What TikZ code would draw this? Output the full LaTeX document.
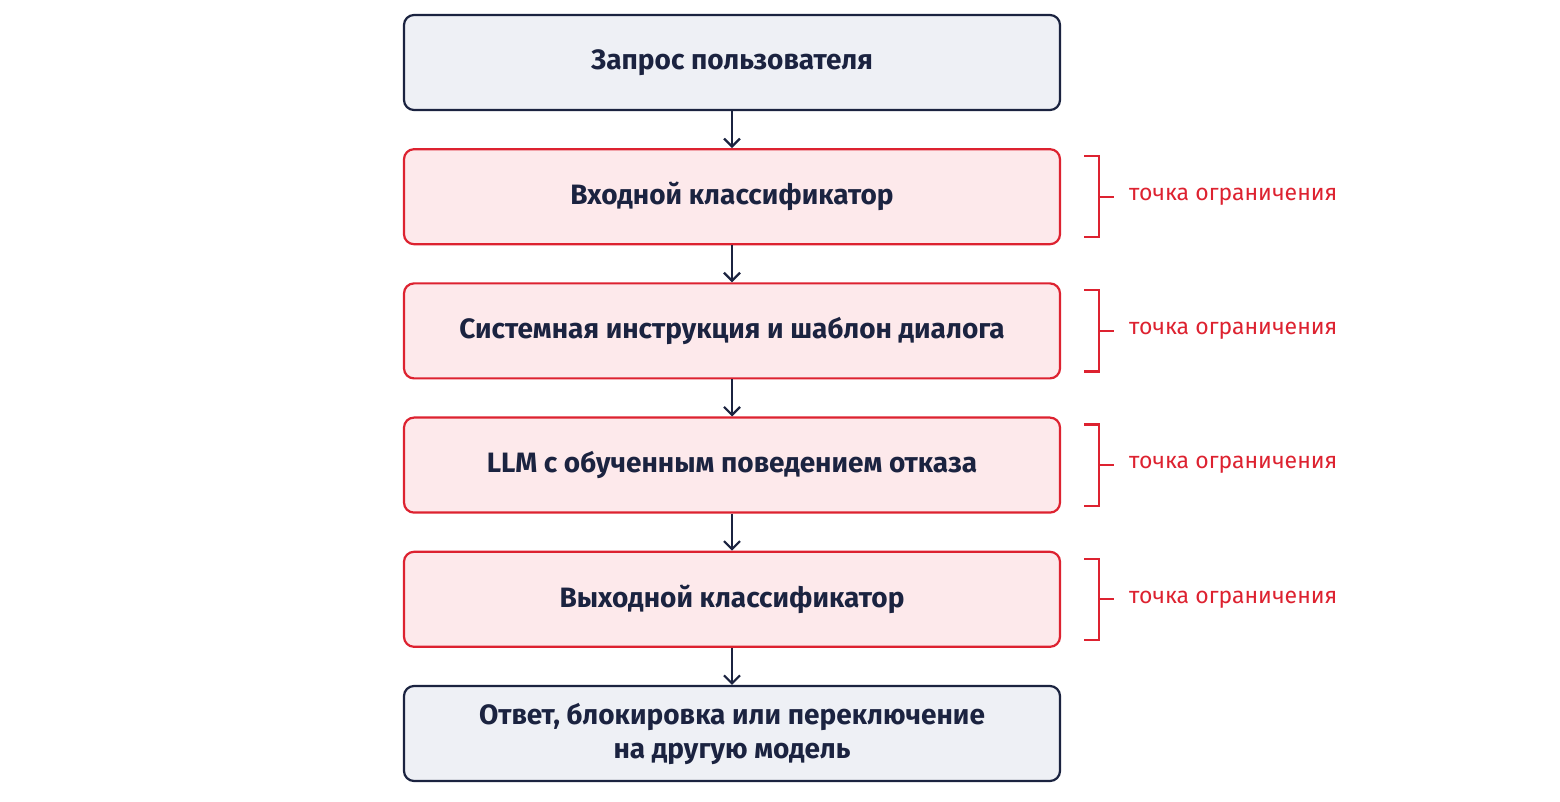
\documentclass[tikz,border=0pt]{standalone}
\usepackage{fontspec}
\setmainfont{Fira Sans}
\usetikzlibrary{positioning, arrows.meta}
\definecolor{navy}{HTML}{1B2340}
\definecolor{grayfill}{HTML}{EEF0F5}
\definecolor{redline}{HTML}{DD2230}
\definecolor{redfill}{HTML}{FDE9EB}
\tikzset{
    >={Straight Barb[length=4pt,width=8pt]}, % open arrow heads
    stage/.style={draw=navy, fill=grayfill, line width=1.1pt, rounded corners=5pt,
        minimum width=328pt, minimum height=47.5pt, align=center,
        font=\fontsize{14}{17}\selectfont\bfseries, text=navy},
    limit/.style={stage, draw=redline, fill=redfill}, % restricted stages
    node distance=18.5pt,
    flow/.style={->, draw=navy, line width=1.1pt},
    brace/.style={draw=redline, line width=1.1pt},
    note/.style={text=redline, font=\fontsize{11.5}{13}\selectfont, anchor=west},
}
\begin{document}
\begin{tikzpicture}
    \useasboundingbox (0,0) rectangle (780pt,-401pt);
    \node[stage] (user) at (366pt,-31.25pt) {Запрос пользователя};
    \node[limit, below=of user] (inclf) {Входной классификатор};
    \node[limit, below=of inclf] (sysprompt) {Системная инструкция и шаблон диалога};
    \node[limit, below=of sysprompt] (llm) {LLM с обученным поведением отказа};
    \node[limit, below=of llm] (outclf) {Выходной классификатор};
    \node[stage, below=of outclf] (result) {Ответ, блокировка или переключение\\на другую модель};
    \draw[flow] (user) -- (inclf);
    \draw[flow] (inclf) -- (sysprompt);
    \draw[flow] (sysprompt) -- (llm);
    \draw[flow] (llm) -- (outclf);
    \draw[flow] (outclf) -- (result);
    % brackets with notes
    \foreach \s in {inclf, sysprompt, llm, outclf} {
        \coordinate (\s-t) at ([xshift=11.5pt,yshift=-4pt]\s.north east);
        \coordinate (\s-b) at ([xshift=11.5pt,yshift=4pt]\s.south east);
        \coordinate (\s-m) at ([xshift=19pt]\s.east);
        \draw[brace] (\s-t) -- ++(7.5pt,0) |- (\s-b);
        \draw[brace] (\s-m) -- ++(7.5pt,0) node[note, inner sep=0pt, xshift=7pt] (\s-note) {точка ограничения};
    }
\end{tikzpicture}
\end{document}
